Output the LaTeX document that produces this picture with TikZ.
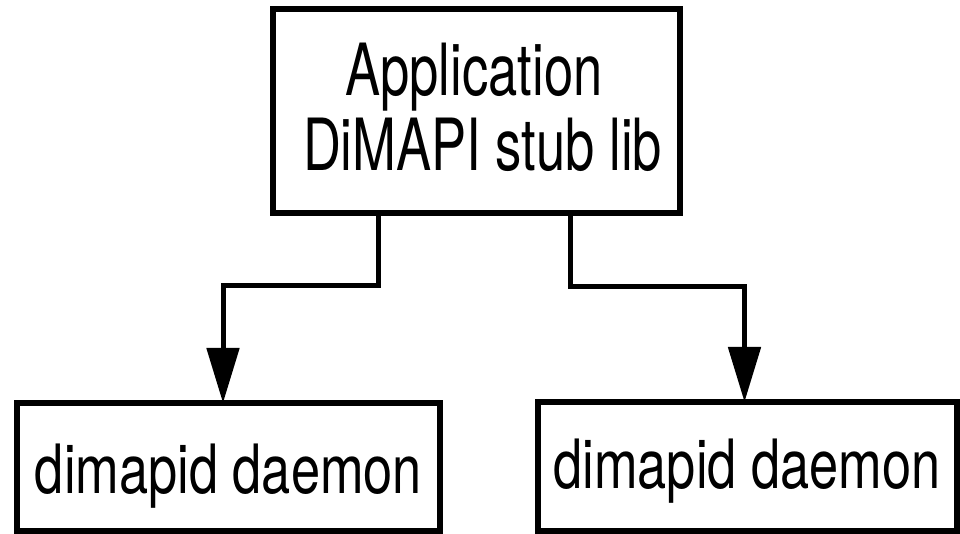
\documentclass[tikz,border=0pt]{standalone}
\usepackage{fontspec}
\usetikzlibrary{arrows.meta}
% condensed Helvetica-style lettering
\newfontfamily\headfont[FakeStretch=0.73]{TeX Gyre Heros}
\newfontfamily\daemonfont[FakeStretch=0.77]{TeX Gyre Heros}
\newlength\upx
\setlength\upx{0.75pt}
\tikzset{
  box/.style={draw, line width=4.5pt, inner sep=0pt, outer sep=0pt, fill=white},
  headbox/.style={box, align=center,
    font=\headfont\fontsize{54pt}{56.25pt}\selectfont},
  daemonbox/.style={box, text depth=0pt,
    font=\daemonfont\fontsize{51pt}{56pt}\selectfont},
  conn/.style={line width=3.75pt, line join=miter,
    -{Triangle[length=41.25pt, width=24pt]}}
}
\begin{document}
\begin{tikzpicture}[x=0.75pt, y=-0.75pt]
  \useasboundingbox (0,0) rectangle (960,534);

  % client side: application linked against the stub library
  \node[headbox, minimum width=407\upx, minimum height=204\upx] (app) at (476.5,111)
    {Application\hspace*{3.75pt}\\\hspace*{9pt}DiMAPI stub lib\rule[-6pt]{0pt}{0pt}};

  % the two daemons (text sits low in each box)
  \node[daemonbox, text height=39pt, minimum width=423\upx, minimum height=128\upx]
    (dl) at (228.5,467) {dimapid daemon};
  \node[daemonbox, text height=32.25pt, minimum width=419\upx, minimum height=129\upx]
    (dr) at (747,466.5) {dimapid daemon};

  % bend points of the two connectors
  \coordinate (lsplit) at (378.5,0);
  \coordinate (ljog) at (223,286);
  \coordinate (rsplit) at (570.5,0);
  \coordinate (rjog) at (744.5,287);

  \draw[conn] (app.south -| lsplit) |- (ljog) -- (ljog |- dl.north);
  \draw[conn] (app.south -| rsplit) |- (rjog) -- (rjog |- dr.north);
\end{tikzpicture}
\end{document}
